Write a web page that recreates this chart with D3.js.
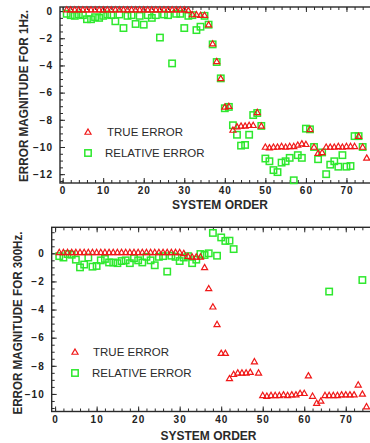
<!DOCTYPE html>
<html><head><meta charset="utf-8">
<script src="https://cdn.jsdelivr.net/npm/d3@7"></script>
<style>
html,body{margin:0;padding:0;background:#fff;}
svg{display:block;}
.tl text{font-family:"Liberation Sans",Arial,sans-serif;font-weight:bold;font-size:10px;letter-spacing:1px;fill:#222;}
</style></head>
<body><svg id="c" width="370" height="443"></svg>
<script>
// ---- data ----
const order = d3.range(1, 76);
const xTicks = [0, 10, 20, 30, 40, 50, 60, 70];
const yTicks1 = [0, -2, -4, -6, -8, -10, -12];
const yTicks2 = [0, -2, -4, -6, -8, -10];
const legendLabels = ["TRUE ERROR", "RELATIVE ERROR"];
const yTitle1 = "ERROR MAGNITUDE FOR 1Hz.";
const yTitle2 = "ERROR MAGNITUDE FOR 300Hz.";
const xTitle = "SYSTEM ORDER";

// 1 Hz
const trueErr1 = [0.1,0.1,0.1,0.1,0.1,0.1,0.1,0.1,0.1,0.1,0.1,0.1,0.1,0.1,0.1,0.1,0.1,0.1,0.1,0.1,
  0.1,0.1,0.1,0.1,0.1,0.1,0.1,0.1,0.1,0.1,0.05,-0.25,-0.25,-0.3,-0.3,-1.0,-2.4,-3.7,-4.95,-7.05,
  -7.0,-8.75,-8.5,-8.45,-8.45,-8.4,-8.4,-7.45,-8.45,-10.0,-10.05,-10.0,-10.0,-9.95,-10.0,-9.95,-9.95,-9.85,-9.75,-9.8,
  -8.7,-10.0,-10.45,-10.4,-10.0,-10.0,-10.0,-9.95,-10.0,-9.95,-9.95,-9.95,-9.2,-10.0,-10.8];
const relErr1 = [-0.2,-0.3,-0.35,-0.25,-0.3,-0.6,-0.6,-0.45,-0.5,-0.35,-0.25,-0.3,-0.75,-0.25,-1.25,-0.35,-0.3,-0.95,-0.35,-1.0,
  -0.3,-0.5,-0.3,-1.95,-0.25,-0.3,-3.85,-0.2,-0.2,-1.25,-0.35,-0.3,-1.4,-1.15,-0.35,-1.0,-2.45,-3.75,-4.95,-7.15,
  -7.05,-8.4,-9.1,-9.9,-9.85,-9.1,-7.65,-7.5,-8.45,-10.85,-11.05,-11.7,-11.85,-11.15,-11.05,-10.8,-12.45,-10.6,-10.8,-8.65,
  -8.7,-10.0,-10.9,-10.4,-12.0,-11.3,-11.05,-11.45,-10.6,-11.45,-11.4,-9.2,-9.2,-10.0,null];

// 300 Hz
const trueErr2 = [0.07,0.07,0.07,0.07,0.07,0.07,0.07,0.07,0.07,0.07,0.07,0.07,0.07,0.07,0.07,0.07,0.07,0.07,0.07,0.07,
  0.07,0.07,0.07,0.07,0.07,0.07,0.07,0.07,0.07,0.07,0.0,-0.2,-0.25,-0.25,-0.25,-1.0,-2.5,-3.8,-5.05,-7.1,
  -7.1,-8.9,-8.6,-8.5,-8.5,-8.5,-8.45,-7.7,-8.5,-10.1,-10.15,-10.1,-10.1,-10.1,-10.05,-10.1,-10.05,-10.05,-9.95,-9.95,
  -8.7,-10.15,-10.65,-10.5,-10.1,-10.1,-10.1,-10.1,-10.05,-10.05,-10.05,-10.05,-9.35,-10.0,-10.9];
const relErr2 = [-0.2,-0.3,-0.05,-0.1,-0.45,-1.0,-0.8,-0.3,-0.95,-0.9,-0.5,-0.4,-0.65,-0.65,-0.7,-0.55,-0.5,-0.7,-0.35,-0.5,
  -0.65,-0.25,-0.5,-0.85,-0.25,-0.2,-1.3,-0.17,-0.25,-0.55,-0.3,-0.2,-0.7,-0.45,-0.05,-0.12,0.0,1.45,-0.17,1.13,
  0.88,0.9,0.3,null,null,null,null,null,null,null,null,null,null,null,null,null,null,null,null,null,
  null,null,null,null,null,-2.72,null,null,null,null,null,null,null,-1.9,null];

const RED = "#f01818", GREEN = "#2ee82e", INK = "#2a2a2a";
const svg = d3.select("#c");

function panel(cfg) {
  const g = svg.append("g");
  const x = d3.scaleLinear().domain(cfg.xDom).range([cfg.left, cfg.right]);
  const y = d3.scaleLinear().domain(cfg.yDom).range([cfg.top, cfg.bottom]);

  // frame
  g.append("rect").attr("x", cfg.left).attr("y", cfg.top)
    .attr("width", cfg.right - cfg.left).attr("height", cfg.bottom - cfg.top)
    .attr("fill", "none").attr("stroke", INK).attr("stroke-width", 1.4);

  const minorX = d3.range(0, 77, 2), minorY = d3.range(Math.ceil(cfg.yDom[1] * 2) / 2, cfg.yDom[0], 0.5);
  function ticks(axis, tr) {
    const a = g.append("g").attr("transform", tr).call(axis);
    a.select(".domain").remove();
    a.selectAll("line").attr("stroke", INK).attr("stroke-width", 1);
    return a;
  }
  ticks(d3.axisTop(x).tickValues(minorX).tickSize(3).tickFormat(""), `translate(0,${cfg.bottom})`);
  ticks(d3.axisTop(x).tickValues(xTicks).tickSize(5).tickFormat(""), `translate(0,${cfg.bottom})`);
  ticks(d3.axisBottom(x).tickValues(minorX).tickSize(3).tickFormat(""), `translate(0,${cfg.top})`);
  ticks(d3.axisBottom(x).tickValues(xTicks).tickSize(5).tickFormat(""), `translate(0,${cfg.top})`);
  ticks(d3.axisRight(y).tickValues(minorY).tickSize(3).tickFormat(""), `translate(${cfg.left},0)`);
  ticks(d3.axisRight(y).tickValues(cfg.yTicks).tickSize(5).tickFormat(""), `translate(${cfg.left},0)`);

  // labels
  const xl = g.append("g").attr("class", "tl").attr("transform", `translate(0,${cfg.bottom})`)
    .call(d3.axisBottom(x).tickValues(xTicks).tickSize(0).tickPadding(4).tickFormat(d3.format("d")));
  xl.select(".domain").remove();
  const yl = g.append("g").attr("class", "tl").attr("transform", `translate(${cfg.left},0)`)
    .call(d3.axisLeft(y).tickValues(cfg.yTicks).tickSize(0).tickPadding(7)
      .tickFormat(d => d < 0 ? "\u2212" + Math.abs(d) : String(d)));
  yl.select(".domain").remove();

  // titles
  g.append("text").attr("x", cfg.xtX).attr("y", cfg.xtY).attr("text-anchor", "middle")
    .attr("font-family", "Liberation Sans, Arial, sans-serif").attr("font-weight", "bold")
    .attr("font-size", 12).attr("fill", INK).text(xTitle);
  g.append("text").attr("transform", `translate(${cfg.ytX},${cfg.ytY}) rotate(-90)`).attr("text-anchor", "middle")
    .attr("font-family", "Liberation Sans, Arial, sans-serif").attr("font-weight", "bold")
    .attr("font-size", 12).attr("fill", INK).attr("textLength", cfg.ytLen).attr("lengthAdjust", "spacingAndGlyphs")
    .text(cfg.yTitle);

  // data
  const tri = d3.symbol().type(d3.symbolTriangle).size(16);
  const td = order.map((o, i) => ({ o, v: cfg.trueErr[i] })).filter(d => d.v != null);
  const rd = order.map((o, i) => ({ o, v: cfg.relErr[i] })).filter(d => d.v != null);
  const s = 6.4;
  g.append("g").selectAll("rect").data(rd).join("rect")
    .attr("x", d => x(d.o) - s / 2).attr("y", d => y(d.v) - s / 2)
    .attr("width", s).attr("height", s)
    .attr("fill", "none").attr("stroke", GREEN).attr("stroke-width", 1.5);
  g.append("g").selectAll("path").data(td).join("path")
    .attr("transform", d => `translate(${x(d.o)},${y(d.v) + 0.5})`)
    .attr("d", tri).attr("fill", "none").attr("stroke", RED).attr("stroke-width", 1.2);

  // legend
  const lg = g.append("g");
  lg.append("path").attr("transform", `translate(${cfg.legX},${cfg.legY1 + 0.5})`)
    .attr("d", tri).attr("fill", "none").attr("stroke", RED).attr("stroke-width", 1.2);
  lg.append("rect").attr("x", cfg.legX - s / 2).attr("y", cfg.legY2 - s / 2).attr("width", s).attr("height", s)
    .attr("fill", "none").attr("stroke", GREEN).attr("stroke-width", 1.5);
  [cfg.legY1, cfg.legY2].forEach((ly, i) => {
    lg.append("text").attr("x", cfg.legTX[i]).attr("y", ly + 4.3)
      .attr("font-family", "Liberation Sans, Arial, sans-serif").attr("font-size", 11.5)
      .attr("fill", INK).text(legendLabels[i]);
  });
}

panel({
  xDom: [-0.65, 76.3], yDom: [0.3, -12.65], left: 60, right: 372, top: 7, bottom: 183,
  yTicks: yTicks1, trueErr: trueErr1, relErr: relErr1,
  xtX: 220, xtY: 209, ytX: 27.5, ytY: 96, ytLen: 172, yTitle: yTitle1,
  legX: 88, legY1: 132, legY2: 153, legTX: [107, 105]
});
panel({
  xDom: [-0.82, 76.8], yDom: [1.85, -11.25], left: 51.7, right: 374, top: 227.3, bottom: 411.5,
  yTicks: yTicks2, trueErr: trueErr2, relErr: relErr2,
  xtX: 208.5, xtY: 440, ytX: 21.5, ytY: 323, ytLen: 183, yTitle: yTitle2,
  legX: 75, legY1: 352, legY2: 373, legTX: [93, 92]
});
</script></body></html>
